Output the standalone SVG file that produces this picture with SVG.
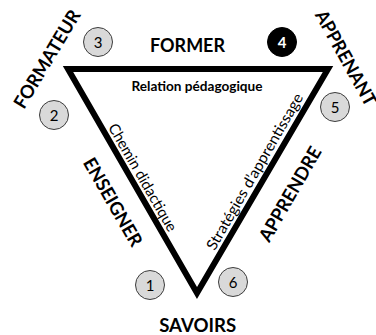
<svg xmlns="http://www.w3.org/2000/svg" width="376" height="335" viewBox="0 0 376 335">
<style>
.big{font-family:Lato,"Liberation Sans",sans-serif;font-weight:bold;font-size:18.5px;fill:#000}
.mid{font-family:Lato,"Liberation Sans",sans-serif;font-weight:bold;font-size:13.5px;fill:#000}
.edge{font-family:Lato,"Liberation Sans",sans-serif;font-size:15px;fill:#000}
.num{font-family:Lato,"Liberation Sans",sans-serif;font-size:15px;fill:#000}
.numw{font-family:Lato,"Liberation Sans",sans-serif;font-weight:bold;font-size:15px;fill:#fff}
.c{fill:#d9d9d9;stroke:#3c3c3c;stroke-width:1}
.cb{fill:#000;stroke:#000;stroke-width:1}
</style>
<rect width="376" height="335" fill="#fff"/>
<g id="connectors">
<polygon points="68,69 328,69 197,293" fill="none" stroke="#000" stroke-width="6" stroke-linejoin="miter" stroke-miterlimit="10"/>
<text class="mid" x="197" y="91" text-anchor="middle" textLength="131" lengthAdjust="spacingAndGlyphs">Relation pédagogique</text>
<text class="edge" transform="translate(140,179) rotate(60)" x="0" y="2" text-anchor="middle" textLength="122" lengthAdjust="spacingAndGlyphs">Chemin didactique</text>
<text class="edge" transform="translate(257,173) rotate(-60)" x="0" y="2.5" text-anchor="middle" textLength="178" lengthAdjust="spacingAndGlyphs">Stratégies d’apprentissage</text>
</g>
<g id="formateur">
<text class="big" transform="translate(47,59) rotate(-59)" x="0" y="6.6" text-anchor="middle" textLength="111" lengthAdjust="spacingAndGlyphs">FORMATEUR</text>
</g>
<g id="apprenant">
<text class="big" transform="translate(346,58) rotate(61)" x="0" y="6.6" text-anchor="middle" textLength="106" lengthAdjust="spacingAndGlyphs">APPRENANT</text>
</g>
<g id="savoirs">
<text class="big" x="197.7" y="331.5" text-anchor="middle" textLength="77" lengthAdjust="spacingAndGlyphs">SAVOIRS</text>
</g>
<g id="former">
<text class="big" x="187.5" y="51.5" text-anchor="middle" textLength="75" lengthAdjust="spacingAndGlyphs">FORMER</text>
</g>
<g id="enseigner">
<text class="big" transform="translate(113,202) rotate(60)" x="0" y="6.6" text-anchor="middle" textLength="99" lengthAdjust="spacingAndGlyphs">ENSEIGNER</text>
</g>
<g id="apprendre">
<text class="big" transform="translate(290,194) rotate(-60)" x="0" y="6.6" text-anchor="middle" textLength="106" lengthAdjust="spacingAndGlyphs">APPRENDRE</text>
</g>
<g id="n1"><circle class="c" cx="150" cy="285" r="14.5"/><text class="num" x="150" y="290.5" text-anchor="middle">1</text></g>
<g id="n2"><circle class="c" cx="54" cy="115" r="14.5"/><text class="num" x="54" y="120.5" text-anchor="middle">2</text></g>
<g id="n3"><circle class="c" cx="98" cy="42" r="14.5"/><text class="num" x="98" y="47.5" text-anchor="middle">3</text></g>
<g id="n4"><circle class="cb" cx="282" cy="42" r="14.5"/><text class="numw" x="282" y="47.5" text-anchor="middle">4</text></g>
<g id="n5"><circle class="c" cx="335" cy="107" r="14.5"/><text class="num" x="335" y="112.5" text-anchor="middle">5</text></g>
<g id="n6"><circle class="c" cx="233" cy="282" r="14.5"/><text class="num" x="233" y="287.5" text-anchor="middle">6</text></g>
</svg>
